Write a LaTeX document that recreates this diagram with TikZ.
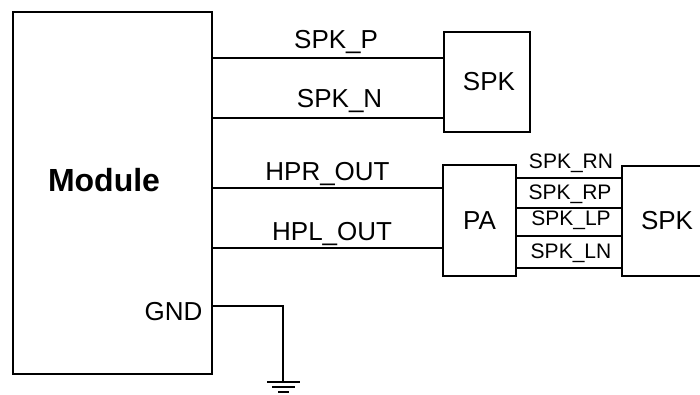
\documentclass[tikz,border=0pt]{standalone}
\usepackage{fontspec}
\setmainfont{Liberation Sans}
\usetikzlibrary{calc}

\begin{document}
\begin{tikzpicture}[x=1pt, y=-1pt, line width=1.3pt]
\tikzset{
    block/.style={rectangle, draw, inner sep=0pt, outer sep=0pt, font=\fontsize{26}{30}\selectfont},
    wire/.style={font=\fontsize{26}{30}\selectfont, inner sep=2pt},
    tinywire/.style={font=\fontsize{21}{24}\selectfont, inner sep=0pt}
}
  \useasboundingbox (0,0) rectangle (700,394);
  \clip (0,0) rectangle (700,394);

  \node[block, minimum width=199pt, minimum height=362pt] (module) at (112.5,193) {};
  \node[block, minimum width=86pt, minimum height=100pt] (spktop) at (487,82) {\hspace{4pt}SPK};
  \node[block, minimum width=73pt, minimum height=111pt] (PA) at (479.5,220.5) {PA};
  \node[block, minimum width=90pt, minimum height=110pt] (spkright) at (667,221) {SPK};
  \node[font=\fontsize{32}{36}\selectfont\bfseries] (modname) at (104,180) {Module};
  \node[wire, inner sep=0pt, anchor=east] (gndname) at (203,312) {GND};

  \node[coordinate] (spkp) at (module.east |- 0,58) {};
  \node[coordinate] (spkn) at (module.east |- 0,118) {};
  \node[coordinate] (hpr) at (module.east |- 0,188) {};
  \node[coordinate] (hpl) at (module.east |- 0,248) {};
  \node[coordinate] (gndpin) at (module.east |- 0,306) {};
  \node[coordinate] (gnd) at (283,382) {};

  \draw (spkp) -- node[wire, above=2pt, pos=0.535] {SPK\_P} (spktop.west |- spkp);
  \draw (spkn) -- node[wire, above=3pt, pos=0.55] {SPK\_N} (spktop.west |- spkn);
  \draw (hpr) -- node[wire, above, pos=0.5] {HPR\_OUT} (PA.west |- hpr);
  \draw (hpl) -- node[wire, above, pos=0.52] {HPL\_OUT} (PA.west |- hpl);

  \node[coordinate] (rn) at (PA.east |- 0,178) {};
  \node[coordinate] (rp) at (PA.east |- 0,208) {};
  \node[coordinate] (lp) at (PA.east |- 0,236) {};
  \node[coordinate] (ln) at (PA.east |- 0,268) {};
  \draw (rn) -- node[tinywire, above=5pt, xshift=2pt] {SPK\_RN} (spkright.west |- rn);
  \draw (rp) -- node[tinywire, above=4pt, xshift=1pt] {SPK\_RP} (spkright.west |- rp);
  \draw (lp) -- node[tinywire, above=6pt, xshift=2pt] {SPK\_LP} (spkright.west |- lp);
  \draw (ln) -- node[tinywire, above=5pt, xshift=2pt] {SPK\_LN} (spkright.west |- ln);

  \draw (gndpin) -| (gnd);
  \draw ($(gnd)+(-16,0)$) -- ($(gnd)+(17,0)$);
  \draw ($(gnd)+(-11,5)$) -- ($(gnd)+(12,5)$);
  \draw ($(gnd)+(-5,10)$) -- ($(gnd)+(6,10)$);
\end{tikzpicture}
\end{document}
